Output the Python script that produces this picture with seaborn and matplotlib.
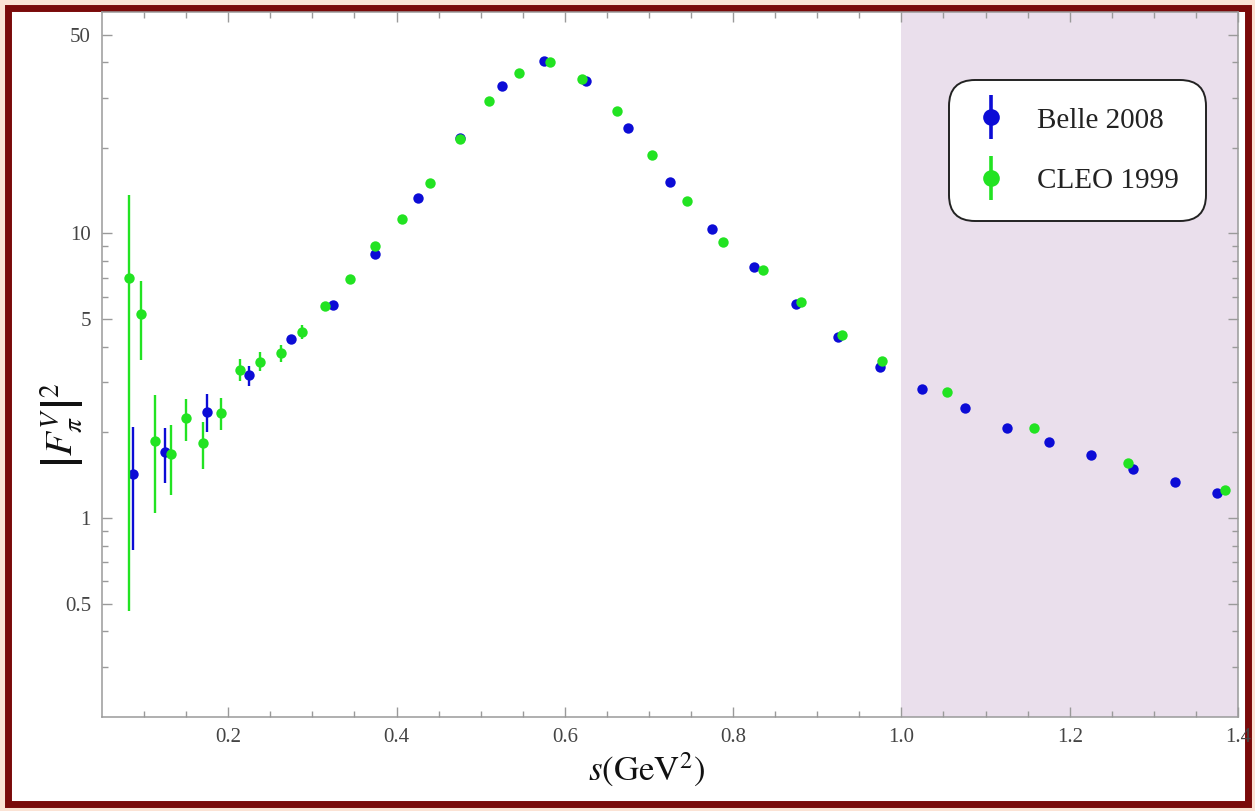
import matplotlib
matplotlib.use("Agg")
import numpy as np
import pandas as pd
import seaborn as sns
import matplotlib.pyplot as plt
from matplotlib.patches import Rectangle
from matplotlib.lines import Line2D
from matplotlib.ticker import FixedLocator, FixedFormatter, NullFormatter

# ---------------- data ----------------
belle_s = [0.087, 0.125, 0.175, 0.225, 0.275, 0.325, 0.375, 0.425, 0.475, 0.525,
           0.575, 0.625, 0.675, 0.725, 0.775, 0.825, 0.875, 0.925, 0.975, 1.025,
           1.075, 1.125, 1.175, 1.225, 1.275, 1.325, 1.375]
belle_f = [1.43, 1.70, 2.35, 3.18, 4.25, 5.59, 8.44, 13.3, 21.7, 33.0,
           40.5, 34.2, 23.5, 15.2, 10.4, 7.6, 5.63, 4.31, 3.39, 2.84,
           2.43, 2.07, 1.85, 1.66, 1.49, 1.34, 1.22]
belle_err_minus = [0.66, 0.37, 0.35, 0.28, 0.12, 0.12, 0.15, 0.2, 0.3, 0.4,
                   0.5, 0.4, 0.3, 0.2, 0.15, 0.12, 0.1, 0.08, 0.06, 0.05,
                   0.05, 0.04, 0.04, 0.04, 0.04, 0.04, 0.04]
belle_err_plus = [0.66, 0.37, 0.37, 0.24, 0.12, 0.12, 0.15, 0.2, 0.3, 0.4,
                  0.5, 0.4, 0.3, 0.2, 0.15, 0.12, 0.1, 0.08, 0.06, 0.05,
                  0.05, 0.04, 0.04, 0.04, 0.04, 0.04, 0.04]

cleo_s = [0.082, 0.096, 0.113, 0.132, 0.150, 0.170, 0.192, 0.214, 0.238, 0.263,
          0.288, 0.315, 0.345, 0.375, 0.407, 0.440, 0.475, 0.510, 0.545, 0.582,
          0.621, 0.662, 0.704, 0.745, 0.788, 0.836, 0.881, 0.929, 0.977, 1.054,
          1.158, 1.269, 1.385]
cleo_f = [6.95, 5.2, 1.86, 1.68, 2.24, 1.83, 2.34, 3.31, 3.53, 3.79,
          4.5, 5.55, 6.9, 9.0, 11.2, 15.1, 21.4, 29.3, 36.7, 40.1,
          35.0, 27.0, 18.8, 13.0, 9.37, 7.42, 5.73, 4.39, 3.56, 2.77,
          2.07, 1.56, 1.26]
cleo_err_minus = [6.48, 1.62, 0.82, 0.47, 0.38, 0.34, 0.30, 0.28, 0.25, 0.26,
                  0.25, 0.15, 0.15, 0.2, 0.25, 0.3, 0.4, 0.5, 0.6, 0.6,
                  0.5, 0.4, 0.3, 0.2, 0.15, 0.12, 0.1, 0.08, 0.07, 0.06,
                  0.05, 0.04, 0.04]
cleo_err_plus = [6.65, 1.59, 0.84, 0.44, 0.38, 0.34, 0.30, 0.30, 0.29, 0.26,
                 0.25, 0.15, 0.15, 0.2, 0.25, 0.3, 0.4, 0.5, 0.6, 0.6,
                 0.5, 0.4, 0.3, 0.2, 0.15, 0.12, 0.1, 0.08, 0.07, 0.06,
                 0.05, 0.04, 0.04]

series_labels = ["Belle 2008", "CLEO 1999"]
x_major = [0.2, 0.4, 0.6, 0.8, 1.0, 1.2, 1.4]
x_major_labels = ["0.2", "0.4", "0.6", "0.8", "1.0", "1.2", "1.4"]
x_minor = [0.1, 0.15, 0.25, 0.3, 0.35, 0.45, 0.5, 0.55, 0.65, 0.7, 0.75,
           0.85, 0.9, 0.95, 1.05, 1.1, 1.15, 1.25, 1.3, 1.35]
y_major = [0.5, 1, 5, 10, 50]
y_major_labels = ["0.5", "1", "5", "10", "50"]
y_minor = [0.3, 0.4, 0.6, 0.7, 0.8, 0.9, 2, 3, 4, 6, 7, 8, 9, 20, 30, 40]

BLUE = "#0c0cd6"
GREEN = "#22e322"

# ---------------- style ----------------
sns.set_theme(style="ticks")
plt.rcParams["font.family"] = ["Liberation Serif", "DejaVu Serif"]
plt.rcParams["mathtext.fontset"] = "stix"

W, H = 1255, 811
fig = plt.figure(figsize=(W / 100, H / 100), dpi=100)
fig.patch.set_facecolor("#FBE3D5")
fig.add_artist(Rectangle((7.5 / W, 7.5 / H), 1 - 15 / W, 1 - 15 / H,
                         transform=fig.transFigure, facecolor="white",
                         edgecolor="#7A0A0A", linewidth=5.0, zorder=-5))

ax = fig.add_axes([102 / W, 1 - 717 / H, 1136 / W, 705 / H])
ax.set_yscale("log")
ax.set_xlim(0.05, 1.4)
ax.set_ylim(0.2, 60)
ax.axvspan(1.0, 1.4, color="#EADFEC", lw=0, zorder=0)

df_belle = pd.DataFrame({"s": belle_s, "F": belle_f, "set": series_labels[0]})
df_cleo = pd.DataFrame({"s": cleo_s, "F": cleo_f, "set": series_labels[1]})

ax.errorbar(df_belle["s"], df_belle["F"], yerr=[belle_err_minus, belle_err_plus],
            fmt="none", ecolor=BLUE, elinewidth=1.7, capsize=0, zorder=2)
sns.scatterplot(data=df_belle, x="s", y="F", color=BLUE, s=56, linewidth=0,
                legend=False, ax=ax, zorder=3)
ax.errorbar(df_cleo["s"], df_cleo["F"], yerr=[cleo_err_minus, cleo_err_plus],
            fmt="none", ecolor=GREEN, elinewidth=1.7, capsize=0, zorder=4)
sns.scatterplot(data=df_cleo, x="s", y="F", color=GREEN, s=56, linewidth=0,
                legend=False, ax=ax, zorder=5)

# ticks
ax.xaxis.set_major_locator(FixedLocator(x_major))
ax.xaxis.set_major_formatter(FixedFormatter(x_major_labels))
ax.xaxis.set_minor_locator(FixedLocator(x_minor))
ax.xaxis.set_minor_formatter(NullFormatter())
ax.yaxis.set_major_locator(FixedLocator(y_major))
ax.yaxis.set_major_formatter(FixedFormatter(y_major_labels))
ax.yaxis.set_minor_locator(FixedLocator(y_minor))
ax.yaxis.set_minor_formatter(NullFormatter())
ax.tick_params(which="both", direction="in", top=True, right=True,
               color="#9a9a9a", labelcolor="#444444", labelsize=15, width=1)
ax.tick_params(which="major", length=7, pad=8)
ax.tick_params(which="minor", length=4)
for sp in ax.spines.values():
    sp.set_color("#9a9a9a")
    sp.set_linewidth(1.1)

ax.set_xlabel(r"$s(\mathrm{GeV}^2)$", fontsize=25, color="#111111")
ax.xaxis.set_label_coords((646 - 102) / 1136, (717 - 770) / 705)
ax.xaxis.label.set_va("center")
ax.set_ylabel(r"$\left|F_{\pi}^{V}\right|^2$", fontsize=28, color="#111111")
ax.yaxis.set_label_coords((62 - 102) / 1136, (717 - 425) / 705)
ax.yaxis.label.set_va("center")

# legend
def handle(c):
    return (Line2D([], [], marker="|", ls="none", color=c, markersize=32, mew=2.6),
            Line2D([], [], marker="o", ls="none", color=c, markersize=12, mew=0))

leg = ax.legend([handle(BLUE), handle(GREEN)], series_labels,
                loc="upper left", bbox_to_anchor=((949 - 102) / 1136, (717 - 80) / 705),
                borderaxespad=0, fontsize=21, frameon=True, fancybox=True,
                framealpha=1, facecolor="white", edgecolor="#222222",
                borderpad=0.93, labelspacing=1.17, handlelength=1.0,
                handletextpad=1.1)
frame = leg.get_frame()
frame.set_boxstyle("round", pad=0, rounding_size=0.9)
frame.set_linewidth(1.4)
for t in leg.get_texts():
    t.set_color("#222222")

fig.savefig("out.png", dpi=100)
